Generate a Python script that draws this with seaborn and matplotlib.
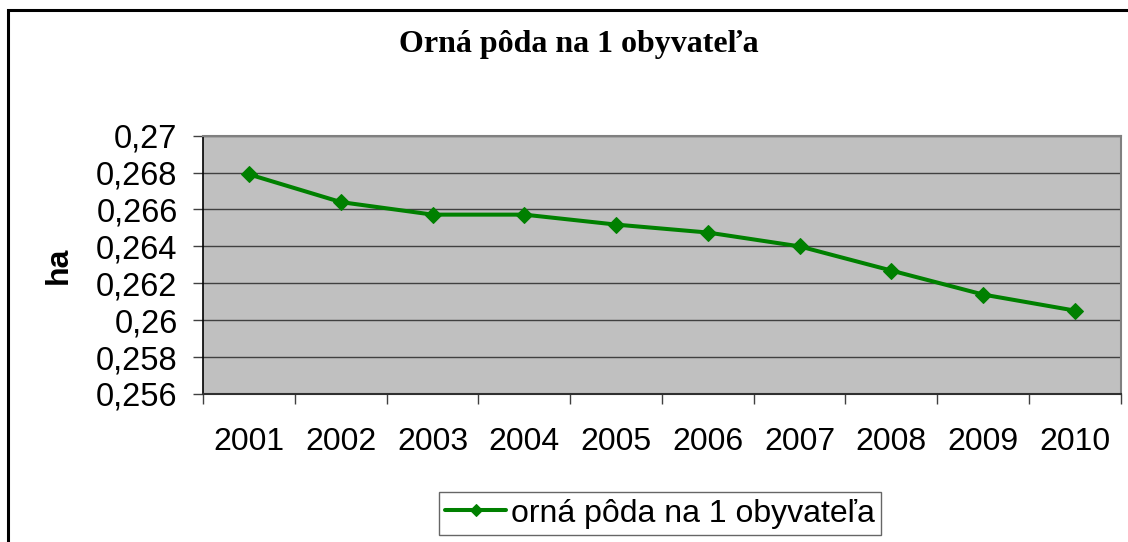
import numpy as np
import pandas as pd
import matplotlib
matplotlib.use("Agg")
import matplotlib.pyplot as plt
from matplotlib.patches import Rectangle
from matplotlib.ticker import FixedLocator, FuncFormatter
import seaborn as sns

# DATA
YEARS = [2001, 2002, 2003, 2004, 2005, 2006, 2007, 2008, 2009, 2010]
HA_PER_CAPITA = [0.2679, 0.2664, 0.26572, 0.26572, 0.26518, 0.26475,
                 0.2640, 0.26269, 0.26139, 0.26052]
Y_TICKS = [0.256, 0.258, 0.26, 0.262, 0.264, 0.266, 0.268, 0.27]
TITLE = "Orná pôda na 1 obyvateľa"
SERIES_NAME = "orná pôda na 1 obyvateľa"
Y_LABEL = "ha"

sns.set_style("white")
plt.rcParams['font.family'] = ['Liberation Sans', 'DejaVu Sans']
plt.rcParams['text.color'] = 'black'
plt.rcParams['xtick.color'] = 'black'
plt.rcParams['ytick.color'] = 'black'
plt.rcParams['axes.labelcolor'] = 'black'

df = pd.DataFrame({"year": YEARS, "value": HA_PER_CAPITA})

fig = plt.figure(figsize=(11.28, 5.42), dpi=100)
ax = fig.add_axes([0.1802, 0.2731, 0.8133, 0.4766])
ax.set_facecolor("#C0C0C0")

sns.lineplot(data=df, x="year", y="value", ax=ax, color="#008000",
             linewidth=2.9, marker="D", markersize=8,
             markeredgecolor="#008000", label=SERIES_NAME)

ax.set_ylim(Y_TICKS[0], Y_TICKS[-1])
ax.set_yticks(Y_TICKS)
ax.yaxis.set_major_formatter(FuncFormatter(lambda v, p: f"{v:g}".replace(".", ",")))
ax.set_xlim(YEARS[0] - 0.5, YEARS[-1] + 0.5)
ax.set_xticks(YEARS)
ax.set_xticklabels([str(y) for y in YEARS])
ax.xaxis.set_minor_locator(FixedLocator([y - 0.5 for y in YEARS] + [YEARS[-1] + 0.5]))

ax.grid(axis="y", color="#404040", linewidth=1.0)
ax.set_axisbelow(True)
ax.tick_params(axis="y", which="major", direction="out", length=7.5, width=1,
               color="#404040", labelsize=23.5, pad=11, left=True)
ax.tick_params(axis="x", which="major", length=0, labelsize=23, pad=24)
ax.tick_params(axis="x", which="minor", direction="out", length=7.5, width=1,
               color="#404040", bottom=True)

for side in ["top", "right"]:
    ax.spines[side].set_color("#808080")
    ax.spines[side].set_linewidth(1.5)
ax.spines["left"].set_color("black")
ax.spines["bottom"].set_color("#303030")
ax.spines["left"].set_linewidth(1.2)
ax.spines["bottom"].set_linewidth(1.5)

ax.set_xlabel("")
ax.set_ylabel(Y_LABEL, fontsize=23, fontweight="bold")
ax.yaxis.set_label_coords(-0.141, 0.5)

fig.text(0.513, 0.918, TITLE, ha="center", va="center", fontsize=23,
         fontweight="bold", family=["Liberation Serif", "DejaVu Serif"])

leg = ax.legend(loc="center", bbox_to_anchor=(0.498, -0.463),
                fontsize=23, frameon=True, fancybox=False, borderpad=0.2,
                handlelength=1.9, handletextpad=0.15, borderaxespad=0,
                markerscale=0.8)
leg.get_frame().set_edgecolor("#404040")
leg.get_frame().set_linewidth(1.0)

# outer chart frame (only top and left edges visible in the crop)
fig.patches.append(Rectangle((8 / 1128, -0.5), 2, 0.5 + 1 - 10 / 542,
                             transform=fig.transFigure, fill=False,
                             edgecolor="black", linewidth=2.2))

fig.savefig("out.png", dpi=100)
